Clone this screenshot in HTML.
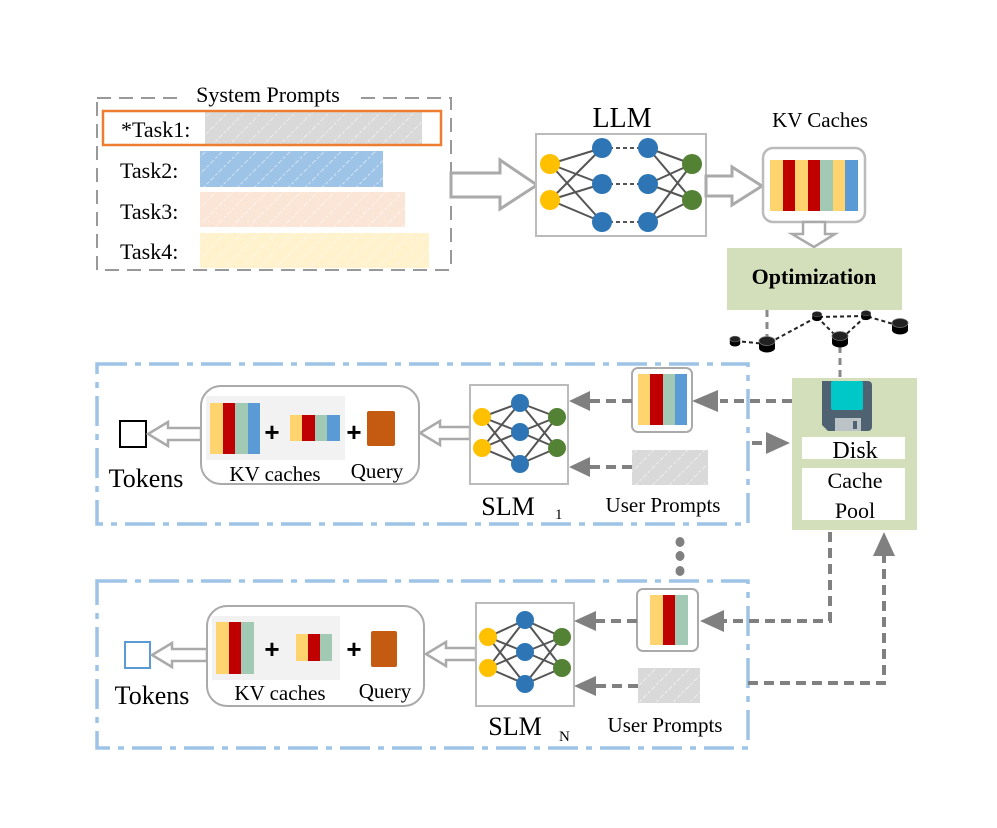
<!DOCTYPE html>
<html><head><meta charset="utf-8"><style>
html,body{margin:0;padding:0;background:#fff;}
svg{display:block;font-family:"Liberation Serif",serif;}
</style></head><body>
<svg width="997" height="828" viewBox="0 0 997 828" xmlns="http://www.w3.org/2000/svg">
<defs>
<pattern id="hatch" width="12" height="12" patternUnits="userSpaceOnUse" patternTransform="rotate(45)">
<line x1="0" y1="0" x2="0" y2="12" stroke="#fff" stroke-width="1.5" stroke-dasharray="3,2" opacity="0.7"/>
</pattern>
<g id="router"><ellipse cx="0" cy="4" rx="8" ry="4.5" fill="#000"/><rect x="-8" y="-3" width="16" height="7" fill="#000"/><ellipse cx="0" cy="-3" rx="8" ry="4.5" fill="#222" stroke="#777" stroke-width="0.8"/></g>
</defs>

<!-- System prompts -->
<rect x="97" y="98" width="354" height="172" fill="none" stroke="#999" stroke-width="2" stroke-dasharray="14,8"/>
<rect x="178" y="86" width="180" height="20" fill="#fff"/>
<text x="268" y="102" font-size="22" text-anchor="middle">System Prompts</text>
<rect x="205" y="111" width="217" height="34" fill="#d9d9d9"/><rect x="205" y="111" width="217" height="34" fill="url(#hatch)"/>
<rect x="103" y="111" width="338" height="34" fill="none" stroke="#ED7D31" stroke-width="2.5"/>
<text x="121" y="137" font-size="22">*Task1:</text>
<rect x="200" y="151" width="183" height="36" fill="#9DC3E6"/><rect x="200" y="151" width="183" height="36" fill="url(#hatch)"/>
<text x="120" y="178" font-size="22">Task2:</text>
<rect x="200" y="192" width="205" height="35" fill="#FBE5D6"/><rect x="200" y="192" width="205" height="35" fill="url(#hatch)"/>
<text x="120" y="219" font-size="22">Task3:</text>
<rect x="200" y="233" width="229" height="35" fill="#FFF2CC"/><rect x="200" y="233" width="229" height="35" fill="url(#hatch)"/>
<text x="120" y="259" font-size="22">Task4:</text>

<polygon points="451,173 500,173 500,160 537,185 500,209 500,197 451,197" fill="#fff" stroke="#aaa" stroke-width="3"/>

<!-- LLM -->
<text x="622" y="127" font-size="28" text-anchor="middle">LLM</text>
<rect x="536" y="134" width="170" height="102" fill="#fff" stroke="#bbb" stroke-width="2"/>
<g stroke="#555" stroke-width="2">
<line x1="550" y1="164" x2="602" y2="148"/><line x1="550" y1="164" x2="602" y2="184"/><line x1="550" y1="164" x2="602" y2="222"/>
<line x1="550" y1="200" x2="602" y2="148"/><line x1="550" y1="200" x2="602" y2="184"/><line x1="550" y1="200" x2="602" y2="222"/>
<line x1="648" y1="148" x2="692" y2="164"/><line x1="648" y1="184" x2="692" y2="164"/><line x1="648" y1="222" x2="692" y2="164"/>
<line x1="648" y1="148" x2="692" y2="200"/><line x1="648" y1="184" x2="692" y2="200"/><line x1="648" y1="222" x2="692" y2="200"/>
</g>
<g stroke="#555" stroke-width="2" stroke-dasharray="4,3">
<line x1="602" y1="148" x2="648" y2="148"/><line x1="602" y1="184" x2="648" y2="184"/><line x1="602" y1="222" x2="648" y2="222"/>
</g>
<g fill="#FFC000"><circle cx="550" cy="164" r="10"/><circle cx="550" cy="200" r="10"/></g>
<g fill="#2E75B6"><circle cx="602" cy="148" r="10"/><circle cx="602" cy="184" r="10"/><circle cx="602" cy="222" r="10"/><circle cx="648" cy="148" r="10"/><circle cx="648" cy="184" r="10"/><circle cx="648" cy="222" r="10"/></g>
<g fill="#548235"><circle cx="692" cy="164" r="10"/><circle cx="692" cy="200" r="10"/></g>

<polygon points="706,176 732,176 732,167 762,186 732,205 732,196 706,196" fill="#fff" stroke="#aaa" stroke-width="3"/>

<!-- KV caches -->
<text x="820" y="127" font-size="21" text-anchor="middle">KV Caches</text>
<rect x="763" y="148" width="102" height="74" rx="10" fill="#fff" stroke="#bbb" stroke-width="2.5"/>
<rect x="770" y="160" width="13" height="51" fill="#FFD36E"/><rect x="783" y="160" width="12" height="51" fill="#C00000"/>
<rect x="795" y="160" width="13" height="51" fill="#FFD36E"/><rect x="808" y="160" width="12" height="51" fill="#C00000"/>
<rect x="820" y="160" width="13" height="51" fill="#A2C9B4"/><rect x="833" y="160" width="12" height="51" fill="#FFD36E"/>
<rect x="845" y="160" width="13" height="51" fill="#5B9BD5"/>
<polygon points="803,222 825,222 825,234 835,234 814,247 792,234 803,234" fill="#fff" stroke="#aaa" stroke-width="2.5"/>

<rect x="727" y="248" width="175" height="62" fill="#D3DFBB"/>
<text x="814" y="284" font-size="22" font-weight="bold" text-anchor="middle">Optimization</text>

<g stroke="#222" stroke-width="2" stroke-dasharray="4,3" fill="none">
<polyline points="735,341 767,344 817,317 866,316 900,326"/>
<polyline points="817,317 840,340 866,316"/>
</g>
<g stroke="#888" stroke-width="3" stroke-dasharray="7,5">
<line x1="767" y1="310" x2="767" y2="338"/>
<line x1="840" y1="346" x2="840" y2="378"/>
</g>
<use href="#router" transform="translate(735,341) scale(0.65)"/>
<use href="#router" transform="translate(767,344)"/>
<use href="#router" transform="translate(817,316) scale(0.6)"/>
<use href="#router" transform="translate(840,339)"/>
<use href="#router" transform="translate(866,315) scale(0.6)"/>
<use href="#router" transform="translate(900,326)"/>

<!-- Disk cache pool -->
<rect x="792" y="378" width="125" height="152" fill="#D3DFBB"/>
<path d="M822,381 h46 a4,4 0 0 1 4,4 v42 a4,4 0 0 1 -4,4 h-40 l-6,-6 z" fill="#4F6272"/>
<rect x="831" y="381" width="32" height="29" rx="2" fill="#00C8C8"/>
<rect x="835" y="418" width="26" height="13" fill="#BCC3C7"/>
<rect x="853" y="421" width="4" height="8" fill="#4F6272"/>
<rect x="802" y="437" width="103" height="22" fill="#fff"/>
<text x="855" y="458" font-size="24" text-anchor="middle">Disk</text>
<rect x="802" y="468" width="103" height="52" fill="#fff"/>
<text x="855" y="488" font-size="22" text-anchor="middle">Cache</text>
<text x="855" y="518" font-size="22" text-anchor="middle">Pool</text>

<!-- panel 1 -->
<rect x="97" y="364" width="651" height="160" fill="none" stroke="#9DC3E6" stroke-width="3.5" stroke-dasharray="30,8,6,8"/>
<rect x="120" y="421" width="26" height="26" fill="#fff" stroke="#000" stroke-width="2"/>
<text x="146" y="487" font-size="26" text-anchor="middle">Tokens</text>
<polygon points="201,428 168,428 168,422 148,434 168,446 168,440 201,440" fill="#fff" stroke="#aaa" stroke-width="2.5"/>
<rect x="201" y="386" width="218" height="98" rx="20" fill="#fff" stroke="#aaa" stroke-width="2"/>
<rect x="206" y="396" width="139" height="64" fill="#f2f2f2"/>
<rect x="210" y="403" width="13" height="51" fill="#FFD36E"/><rect x="223" y="403" width="12" height="51" fill="#C00000"/>
<rect x="235" y="403" width="13" height="51" fill="#A2C9B4"/><rect x="248" y="403" width="12" height="51" fill="#5B9BD5"/>
<text x="272" y="441" font-size="26" font-family="Liberation Sans,sans-serif" font-weight="bold" text-anchor="middle">+</text>
<rect x="290" y="415" width="12" height="26" fill="#FFD36E"/><rect x="302" y="415" width="13" height="26" fill="#C00000"/>
<rect x="315" y="415" width="12" height="26" fill="#A2C9B4"/><rect x="327" y="415" width="13" height="26" fill="#5B9BD5"/>
<text x="354" y="441" font-size="26" font-family="Liberation Sans,sans-serif" font-weight="bold" text-anchor="middle">+</text>
<rect x="367" y="411" width="28" height="35" rx="2" fill="#C55A11"/>
<text x="275" y="481" font-size="21" text-anchor="middle">KV caches</text>
<text x="377" y="478" font-size="21" text-anchor="middle">Query</text>
<polygon points="470,427 440,427 440,421 420,433 440,445 440,439 470,439" fill="#fff" stroke="#aaa" stroke-width="2.5"/>
<rect x="470" y="385" width="98" height="99" fill="#fff" stroke="#bbb" stroke-width="2"/>
<g stroke="#555" stroke-width="2">
<line x1="482" y1="417" x2="520" y2="403"/><line x1="482" y1="417" x2="520" y2="432"/><line x1="482" y1="417" x2="520" y2="464"/>
<line x1="482" y1="448" x2="520" y2="403"/><line x1="482" y1="448" x2="520" y2="432"/><line x1="482" y1="448" x2="520" y2="464"/>
<line x1="557" y1="417" x2="520" y2="403"/><line x1="557" y1="417" x2="520" y2="432"/><line x1="557" y1="417" x2="520" y2="464"/>
<line x1="557" y1="448" x2="520" y2="403"/><line x1="557" y1="448" x2="520" y2="432"/><line x1="557" y1="448" x2="520" y2="464"/>
</g>
<g fill="#FFC000"><circle cx="482" cy="417" r="9"/><circle cx="482" cy="448" r="9"/></g>
<g fill="#2E75B6"><circle cx="520" cy="403" r="9"/><circle cx="520" cy="432" r="9"/><circle cx="520" cy="464" r="9"/></g>
<g fill="#548235"><circle cx="557" cy="417" r="9"/><circle cx="557" cy="448" r="9"/></g>
<text x="508" y="515" font-size="26" text-anchor="middle">SLM</text><text x="555" y="519" font-size="15">1</text>
<rect x="632" y="368" width="60" height="64" rx="6" fill="#fff" stroke="#aaa" stroke-width="2"/>
<rect x="638" y="374" width="12" height="51" fill="#FFD36E"/><rect x="650" y="374" width="13" height="51" fill="#C00000"/>
<rect x="663" y="374" width="12" height="51" fill="#A2C9B4"/><rect x="675" y="374" width="12" height="51" fill="#5B9BD5"/>
<rect x="632" y="450" width="76" height="35" fill="#d9d9d9"/><rect x="632" y="450" width="76" height="35" fill="url(#hatch)"/>
<text x="663" y="512" font-size="21" text-anchor="middle">User Prompts</text>
<g stroke="#808080" stroke-width="4" stroke-dasharray="10,6" fill="none">
<line x1="792" y1="401" x2="720" y2="401"/>
<line x1="632" y1="401" x2="588" y2="401"/>
<line x1="632" y1="467" x2="588" y2="467"/>
<line x1="752" y1="443" x2="768" y2="443"/>
</g>
<g fill="#808080">
<polygon points="692,401 718,390 718,412"/>
<polygon points="569,401 590,391 590,411"/>
<polygon points="569,467 590,457 590,477"/>
<polygon points="790,443 766,432 766,454"/>
</g>

<g fill="#808080"><ellipse cx="680" cy="542" rx="4.5" ry="5"/><ellipse cx="680" cy="556" rx="4.5" ry="5"/><ellipse cx="680" cy="571" rx="4.5" ry="5"/></g>

<!-- panel N -->
<rect x="97" y="581" width="651" height="167" fill="none" stroke="#9DC3E6" stroke-width="3.5" stroke-dasharray="30,8,6,8"/>
<rect x="125" y="642" width="25" height="26" fill="#fff" stroke="#5B9BD5" stroke-width="2"/>
<text x="152" y="704" font-size="26" text-anchor="middle">Tokens</text>
<polygon points="207,649 172,649 172,643 152,655 172,667 172,661 207,661" fill="#fff" stroke="#aaa" stroke-width="2.5"/>
<rect x="207" y="606" width="217" height="100" rx="20" fill="#fff" stroke="#aaa" stroke-width="2"/>
<rect x="212" y="616" width="128" height="64" fill="#f2f2f2"/>
<rect x="216" y="622" width="13" height="52" fill="#FFD36E"/><rect x="229" y="622" width="12" height="52" fill="#C00000"/>
<rect x="241" y="622" width="13" height="52" fill="#A2C9B4"/>
<text x="272" y="658" font-size="26" font-family="Liberation Sans,sans-serif" font-weight="bold" text-anchor="middle">+</text>
<rect x="296" y="634" width="12" height="27" fill="#FFD36E"/><rect x="308" y="634" width="12" height="27" fill="#C00000"/>
<rect x="320" y="634" width="12" height="27" fill="#A2C9B4"/>
<text x="354" y="658" font-size="26" font-family="Liberation Sans,sans-serif" font-weight="bold" text-anchor="middle">+</text>
<rect x="371" y="631" width="26" height="36" rx="2" fill="#C55A11"/>
<text x="280" y="700" font-size="21" text-anchor="middle">KV caches</text>
<text x="385" y="698" font-size="21" text-anchor="middle">Query</text>
<polygon points="476,648 446,648 446,642 426,654 446,666 446,660 476,660" fill="#fff" stroke="#aaa" stroke-width="2.5"/>
<rect x="476" y="603" width="98" height="103" fill="#fff" stroke="#bbb" stroke-width="2"/>
<g stroke="#555" stroke-width="2">
<line x1="488" y1="637" x2="525" y2="620"/><line x1="488" y1="637" x2="525" y2="652"/><line x1="488" y1="637" x2="525" y2="684"/>
<line x1="488" y1="668" x2="525" y2="620"/><line x1="488" y1="668" x2="525" y2="652"/><line x1="488" y1="668" x2="525" y2="684"/>
<line x1="562" y1="637" x2="525" y2="620"/><line x1="562" y1="637" x2="525" y2="652"/><line x1="562" y1="637" x2="525" y2="684"/>
<line x1="562" y1="668" x2="525" y2="620"/><line x1="562" y1="668" x2="525" y2="652"/><line x1="562" y1="668" x2="525" y2="684"/>
</g>
<g fill="#FFC000"><circle cx="488" cy="637" r="9"/><circle cx="488" cy="668" r="9"/></g>
<g fill="#2E75B6"><circle cx="525" cy="620" r="9"/><circle cx="525" cy="652" r="9"/><circle cx="525" cy="684" r="9"/></g>
<g fill="#548235"><circle cx="562" cy="637" r="9"/><circle cx="562" cy="668" r="9"/></g>
<text x="515" y="735" font-size="26" text-anchor="middle">SLM</text><text x="559" y="741" font-size="15">N</text>
<rect x="637" y="589" width="61" height="62" rx="6" fill="#fff" stroke="#aaa" stroke-width="2"/>
<rect x="650" y="595" width="13" height="50" fill="#FFD36E"/><rect x="663" y="595" width="12" height="50" fill="#C00000"/>
<rect x="675" y="595" width="13" height="50" fill="#A2C9B4"/>
<rect x="638" y="668" width="62" height="35" fill="#d9d9d9"/><rect x="638" y="668" width="62" height="35" fill="url(#hatch)"/>
<text x="665" y="732" font-size="21" text-anchor="middle">User Prompts</text>
<g stroke="#808080" stroke-width="4" stroke-dasharray="10,6" fill="none">
<polyline points="830,532 830,621 724,621"/>
<line x1="637" y1="621" x2="594" y2="621"/>
<line x1="638" y1="686" x2="594" y2="686"/>
<polyline points="748,683 884,683 884,556"/>
</g>
<g fill="#808080">
<polygon points="700,621 724,610 724,632"/>
<polygon points="574,621 596,611 596,631"/>
<polygon points="574,686 596,676 596,696"/>
<polygon points="884,532 873,556 895,556"/>
</g>
</svg>
</body></html>
